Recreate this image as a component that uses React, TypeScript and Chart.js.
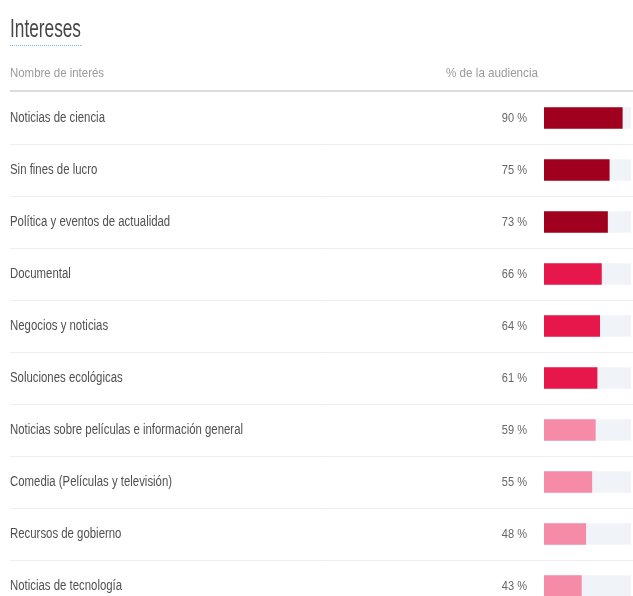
import React, { useEffect, useRef } from "react";
import { Chart, registerables } from "chart.js";

Chart.register(...registerables);

const categories = [
  "Noticias de ciencia",
  "Sin fines de lucro",
  "Política y eventos de actualidad",
  "Documental",
  "Negocios y noticias",
  "Soluciones ecológicas",
  "Noticias sobre películas e información general",
  "Comedia (Películas y televisión)",
  "Recursos de gobierno",
  "Noticias de tecnología",
];
const values = [90, 75, 73, 66, 64, 61, 59, 55, 48, 43];
const trackValues = [100, 100, 100, 100, 100, 100, 100, 100, 100, 100];
const percentLabels = ["90 %", "75 %", "73 %", "66 %", "64 %", "61 %", "59 %", "55 %", "48 %", "43 %"];
const title = "Intereses";
const headerName = "Nombre de interés";
const headerPct = "% de la audiencia";

const FONT = "'Liberation Sans', Arial, sans-serif";

function barColor(v: number) {
  if (v >= 70) return "#A0001E";
  if (v >= 60) return "#E8174B";
  return "#F58BA7";
}

// draw text squeezed horizontally to look like the condensed face of the original
function squeezed(ctx: any, text: string, x: number, y: number, sx: number, align: "left" | "right") {
  ctx.save();
  ctx.translate(x, y);
  ctx.scale(sx, 1);
  ctx.textAlign = align;
  ctx.fillText(text, 0, 0);
  ctx.restore();
}

const tablePlugin = {
  id: "tablePlugin",
  beforeDatasetsDraw(chart: any) {
    const { ctx, scales } = chart;
    const y = scales.y;
    const W = chart.width;
    ctx.save();
    ctx.textBaseline = "middle";
    // title
    ctx.fillStyle = "#474747";
    ctx.font = `25px ${FONT}`;
    const tw = ctx.measureText(title).width;
    squeezed(ctx, title, 10, 30, 71 / tw, "left");
    // dotted underline
    ctx.strokeStyle = "#7FB3E0";
    ctx.lineWidth = 1;
    ctx.setLineDash([1, 1]);
    ctx.beginPath();
    ctx.moveTo(10, 45.5);
    ctx.lineTo(82, 45.5);
    ctx.stroke();
    ctx.setLineDash([]);
    // headers
    ctx.fillStyle = "#9A9A9A";
    ctx.font = `13px ${FONT}`;
    const hw = ctx.measureText(headerName).width;
    squeezed(ctx, headerName, 10, 73, 94 / hw, "left");
    const pw = ctx.measureText(headerPct).width;
    squeezed(ctx, headerPct, 538, 73, 92 / pw, "right");
    // header line
    ctx.strokeStyle = "#D9DDE2";
    ctx.lineWidth = 2;
    ctx.beginPath();
    ctx.moveTo(10, 91);
    ctx.lineTo(W, 91);
    ctx.stroke();
    // rows
    ctx.font = `14px ${FONT}`;
    const lw = ctx.measureText(categories[6]).width;
    const lsx = 233 / lw;
    ctx.lineWidth = 1;
    ctx.strokeStyle = "#ECEEF1";
    categories.forEach((c, i) => {
      const cy = y.getPixelForValue(i);
      ctx.fillStyle = "#505050";
      ctx.font = `14px ${FONT}`;
      squeezed(ctx, c, 10, cy + 0.5, lsx, "left");
      ctx.fillStyle = "#666";
      ctx.font = `13px ${FONT}`;
      squeezed(ctx, percentLabels[i], 527, cy + 0.5, 0.85, "right");
      if (i < categories.length - 1) {
        const ly = Math.round(cy + 26) + 0.5;
        ctx.beginPath();
        ctx.moveTo(10, ly);
        ctx.lineTo(W, ly);
        ctx.stroke();
      }
    });
    ctx.restore();
  },
};

export default function App() {
  const ref = useRef<HTMLCanvasElement>(null);
  useEffect(() => {
    document.body.style.margin = "0";
    const chart = new Chart(ref.current!, {
      type: "bar",
      data: {
        labels: categories,
        datasets: [
          {
            data: values,
            backgroundColor: values.map(barColor),
            barThickness: 21,
            grouped: false,
            order: 0,
          } as any,
          {
            data: trackValues,
            backgroundColor: "#F0F4F9",
            barThickness: 21,
            grouped: false,
            order: 1,
          } as any,
        ],
      },
      options: {
        indexAxis: "y",
        animation: false,
        responsive: false,
        maintainAspectRatio: false,
        layout: { padding: { left: 544, right: 2, top: 92, bottom: 8 } },
        plugins: { legend: { display: false }, tooltip: { enabled: false } },
        scales: {
          x: { display: false, min: 0, max: 100 },
          y: { display: false },
        },
      },
      plugins: [tablePlugin],
    });
    return () => chart.destroy();
  }, []);
  return (
    <div style={{ position: "fixed", left: 0, top: 0, width: 633, height: 596, overflow: "hidden", background: "#fff" }}>
      <canvas ref={ref} width={633} height={620} style={{ display: "block" }} />
    </div>
  );
}
